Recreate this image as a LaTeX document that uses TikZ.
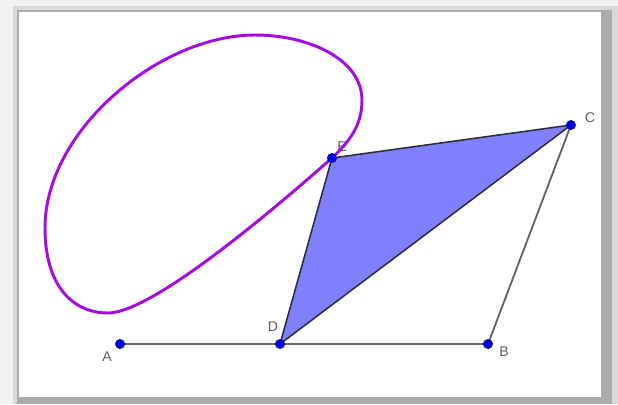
\documentclass[tikz,border=0pt]{standalone}
\usepackage{fontspec}
\setmainfont{Liberation Sans}
\begin{document}
\begin{tikzpicture}[x=0.025cm, y=-0.025cm,
    pointLabel/.style={text=labelColour, font=\normalsize, inner sep=0pt},
    segment/.style={draw=segmentColour, line width=1.3pt},
    pointDot/.style={fill=pointColour, draw=pointColour!70!black, line width=0.4pt}]
    \definecolor{curveColour}{RGB}{165,10,225}
    \definecolor{fillColour}{RGB}{128,128,255}
    \definecolor{pointColour}{RGB}{0,0,230}
    \definecolor{labelColour}{RGB}{95,95,95}
    \definecolor{segmentColour}{RGB}{100,100,100}
    \definecolor{edgeColour}{RGB}{45,45,60}

    % Frame with shadow
    \useasboundingbox (0,0) rectangle (618,404);
    \fill[gray!10] (0,0) rectangle (618,404);
    \fill[gray!30] (13,6) rectangle (618,404);
    \fill[gray!65] (17,10) rectangle (612,404);
    \fill[white] (19,12) rectangle (601,397);

    % Points
    \coordinate (A) at (120,344);
    \coordinate (D) at (280,344);
    \coordinate (B) at (488,344);
    \coordinate (C) at (571,125);
    \coordinate (E) at (332,158);

    % Triangle DEC
    \filldraw[fill=fillColour, draw=edgeColour, line width=1.1pt, line join=round] (D) -- (E) -- (C) -- cycle;

    % Segments AB and BC
    \draw[segment] (A) -- (B) -- (C);

    % Labels
    \node[pointLabel] (labA) at (107,357) {A};
    \node[pointLabel] (labD) at (273,327) {D};
    \node[pointLabel] (labB) at (504,352) {B};
    \node[pointLabel] (labC) at (590,118) {C};
    \node[pointLabel] (labE) at (342,147) {E};

    % Closed curve through E
    \draw[curveColour, line width=2.1pt, line join=round] (E)
        .. controls (350,141) and (362,125) .. (362,100)
        .. controls (362,60) and (310,35) .. (255,35)
        .. controls (160,35) and (45,130) .. (45,228)
        .. controls (45,285) and (72,313) .. (108,313)
        .. controls (155,313) and (290,195) .. (E) -- cycle;

    % Dots
    \foreach \p in {A,D,B,C,E}
        \filldraw[pointDot] (\p) circle (3.3pt);

\end{tikzpicture}
\end{document}
